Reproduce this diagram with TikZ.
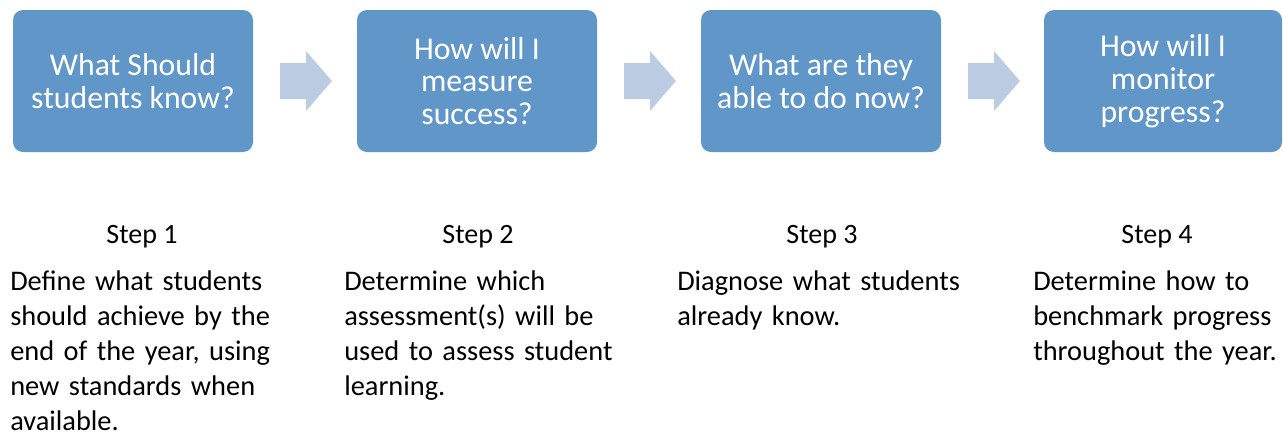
\documentclass[tikz,border=0pt]{standalone}
\usepackage{fontspec}
\setmainfont{Carlito}
\usepackage{xcolor}
\usepackage{tikz}

\definecolor{boxblue}{HTML}{6196C8}
\definecolor{arrowblue}{HTML}{BBCCE3}

\tikzset{
  qbox/.style={fill=boxblue, rounded corners=7.5pt, minimum width=180pt, minimum height=106.5pt,
    inner sep=0pt, text=white, align=center, font=\fontsize{23.8}{24.6}\selectfont},
  steplabel/.style={anchor=base, inner sep=0pt, font=\fontsize{21}{25}\selectfont},
  stepbody/.style={anchor=base west, inner sep=0pt, align=left, text width=260pt, font=\fontsize{21.3}{26.25}\selectfont}
}

\begin{document}
\begin{tikzpicture}[x=0.75pt,y=0.75pt,yscale=-1,xscale=1]

\useasboundingbox (0,0) rectangle (1283,436);

\node [qbox] (know) at (133,81) {What Should\\students know?};
\node [qbox] (measure) at (477,81) {How will I\\measure\\success?};
\node [qbox] (now) at (821,81) {What are they\\able to do now?};
\node [qbox, minimum width=178.5pt] (monitor) at (1163,81) {How will I\\monitor\\progress?};

\fill [arrowblue] (280,63) -- (306,63) -- (306,51) -- (332,81) -- (306,111) -- (306,99) -- (280,99) -- cycle ;

\fill [arrowblue] (624,63) -- (650,63) -- (650,51) -- (676,81) -- (650,111) -- (650,99) -- (624,99) -- cycle ;

\fill [arrowblue] (968,63) -- (994,63) -- (994,51) -- (1020,81) -- (994,111) -- (994,99) -- (968,99) -- cycle ;

\node [steplabel] (step1) at (142,243) {Step 1};
\node [steplabel] (step2) at (478,243) {Step 2};
\node [steplabel] (step3) at (822,243) {Step 3};
\node [steplabel] (step4) at (1157,243) {Step 4};

\node [stepbody] (body1) at (10,290) {Define what students\\should achieve by the\\end of the year, using\\new standards when\\available.};
\node [stepbody] (body2) at (344,290) {Determine which\\assessment(s) will be\\used to assess student\\learning.};
\node [stepbody] (body3) at (677,290) {Diagnose what students\\already know.};
\node [stepbody] (body4) at (1033,290) {Determine how to\\benchmark progress\\throughout the year.};

\end{tikzpicture}
\end{document}
